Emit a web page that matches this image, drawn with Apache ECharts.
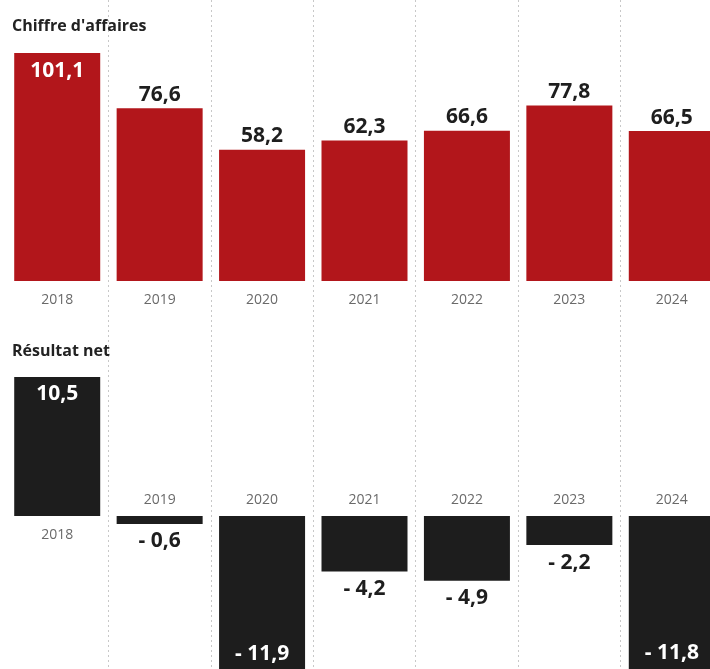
<!DOCTYPE html>
<html><head><meta charset="utf-8">
<script src="https://cdn.jsdelivr.net/npm/echarts@6/dist/echarts.min.js"></script>
<style>html,body{margin:0;padding:0;background:#fff}#c{width:710px;height:669px}</style>
</head><body><div id="c"></div>
<script>
const years = ['2018','2019','2020','2021','2022','2023','2024'];
const chiffreAffaires = [101.1, 76.6, 58.2, 62.3, 66.6, 77.8, 66.5];
const resultatNet = [10.5, -0.6, -11.9, -4.2, -4.9, -2.2, -11.8];
const titleTop = "Chiffre d'affaires";
const titleBottom = "Résultat net";

const RED = '#b2161b', BLACK = '#1d1d1d';
const FONT = '"Open Sans", Lato, sans-serif';
const fmt = v => (v < 0 ? '- ' : '') + Math.abs(v).toFixed(1).replace('.', ',');

const valLabel = {show: true, fontFamily: FONT, fontWeight: 'bold', fontSize: 21, color: '#1e1e1e', formatter: p => fmt(p.value)};

const topData = chiffreAffaires.map(v => v > 90
  ? {value: v, label: {position: 'insideTop', distance: 8, color: '#fff'}}
  : {value: v, label: {position: 'top', distance: 3}});
const botData = resultatNet.map(v => v > 0
  ? {value: v, label: {position: 'insideTop', distance: 7, color: '#fff'}}
  : v < -10
    ? {value: v, label: {position: 'insideBottom', distance: 9, color: '#fff'}}
    : {value: v, label: {position: 'bottom', distance: 7}});
const yearData = resultatNet.map(v => ({value: 0, label: {position: v > 0 ? 'bottom' : 'top', distance: v > 0 ? 12 : 9}}));

const gridBase = {left: 6, width: 717, outerBoundsMode: 'none', containLabel: false};

const chart = echarts.init(document.getElementById('c'));
chart.setOption({
  animation: false,
  title: [
    {text: titleTop, left: 12, top: 18, padding: 0, textStyle: {fontFamily: FONT, fontWeight: 'bold', fontSize: 16, color: '#222'}},
    {text: titleBottom, left: 12, top: 343, padding: 0, textStyle: {fontFamily: FONT, fontWeight: 'bold', fontSize: 16, color: '#222'}}
  ],
  grid: [
    Object.assign({top: 53, height: 228}, gridBase),
    Object.assign({top: 377, height: 296.5}, gridBase),
    Object.assign({top: 0, height: 669}, gridBase)
  ],
  xAxis: [
    {type: 'category', gridIndex: 0, data: years, axisLine: {show: false}, axisTick: {show: false},
     axisLabel: {margin: 12, fontFamily: FONT, fontSize: 14, color: '#6a6a6a'}},
    {type: 'category', gridIndex: 1, data: years, axisLine: {show: false}, axisTick: {show: false}, axisLabel: {show: false}},
    {type: 'category', gridIndex: 2, data: years, axisLine: {show: false}, axisTick: {show: false}, axisLabel: {show: false},
     splitLine: {show: true, interval: (i) => i > 0, lineStyle: {color: '#c8c8c8', type: [2, 3], width: 1}}}
  ],
  yAxis: [
    {type: 'value', gridIndex: 0, min: 0, max: 101.1, show: false},
    {type: 'value', gridIndex: 1, min: -11.9, max: 10.5, show: false},
    {type: 'value', gridIndex: 2, min: 0, max: 1, show: false}
  ],
  series: [
    {type: 'bar', xAxisIndex: 0, yAxisIndex: 0, data: topData, barWidth: 86, itemStyle: {color: RED}, label: valLabel, z: 3},
    {type: 'bar', xAxisIndex: 1, yAxisIndex: 1, data: botData, barWidth: 86, itemStyle: {color: BLACK}, label: valLabel, z: 3},
    {type: 'bar', xAxisIndex: 1, yAxisIndex: 1, data: yearData, barWidth: 86, barGap: '-100%', itemStyle: {color: 'rgba(0,0,0,0)'},
     label: {show: true, fontFamily: FONT, fontSize: 14, color: '#6a6a6a', formatter: p => years[p.dataIndex]}, z: 4}
  ]
});
</script></body></html>
